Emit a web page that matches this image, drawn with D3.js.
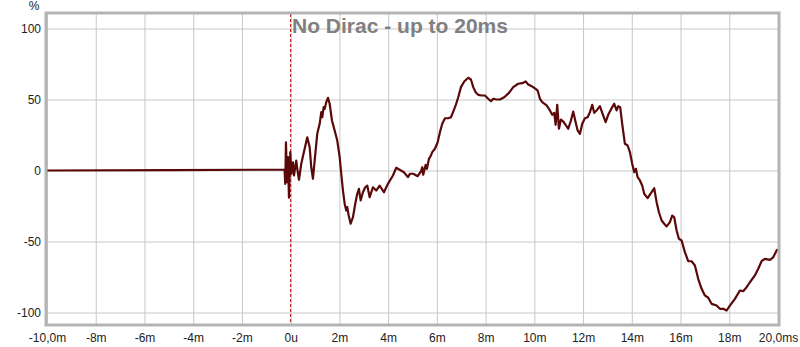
<!DOCTYPE html>
<html lang="en">
<head>
<meta charset="UTF-8">
<title>No Dirac - up to 20ms</title>
<script src="https://d3js.org/d3.v7.min.js"></script>
<style>
  body { margin: 0; background: #fff; }
  svg { display: block; font-family: "Liberation Sans", Arial, sans-serif; }
  .tick text { fill: #222; font-size: 12px; }
</style>
</head>
<body>
<div id="chart"></div>
<script>
// impulse response, time in ms, level in %
const timeMs = [-10, -5, -0.25, -0.222, -0.193, -0.152, -0.111, -0.070, -0.016, 0.025, 0.094, 0.135,
  0.230, 0.271, 0.341, 0.435, 0.574, 0.681, 0.780, 0.845, 0.915, 0.985, 1.091, 1.190, 1.256, 1.297,
  1.354, 1.395, 1.461, 1.531, 1.600, 1.695, 1.805, 1.912, 2.011, 2.076, 2.146, 2.216, 2.281, 2.323,
  2.380, 2.462, 2.556, 2.651, 2.733, 2.802, 2.872, 2.966, 3.061, 3.143, 3.242, 3.377, 3.512, 3.652,
  3.828, 3.992, 4.198, 4.333, 4.473, 4.649, 4.813, 4.895, 5.031, 5.211, 5.347, 5.400, 5.441, 5.540,
  5.593, 5.675, 5.757, 5.810, 5.921, 6.032, 6.126, 6.221, 6.332, 6.467, 6.578, 6.672, 6.771, 6.877,
  6.988, 7.123, 7.287, 7.398, 7.493, 7.591, 7.698, 7.837, 7.973, 8.084, 8.219, 8.313, 8.453, 8.588,
  8.765, 8.958, 9.134, 9.339, 9.504, 9.643, 9.750, 9.889, 10.053, 10.135, 10.230, 10.324, 10.505,
  10.640, 10.734, 10.816, 10.874, 10.940, 11.009, 11.091, 11.186, 11.284, 11.391, 11.502, 11.596,
  11.695, 11.777, 11.871, 11.966, 12.076, 12.187, 12.282, 12.376, 12.458, 12.556, 12.692, 12.802,
  12.926, 13.032, 13.172, 13.279, 13.376, 13.442, 13.524, 13.606, 13.717, 13.828, 13.923, 14.017,
  14.099, 14.169, 14.239, 14.333, 14.427, 14.509, 14.649, 14.813, 14.920, 15.018, 15.113, 15.224,
  15.330, 15.429, 15.564, 15.658, 15.740, 15.839, 15.933, 16.044, 16.179, 16.315, 16.454, 16.590,
  16.725, 16.865, 17.000, 17.136, 17.275, 17.480, 17.616, 17.751, 17.891, 18.026, 18.232, 18.437,
  18.572, 18.711, 18.847, 19.052, 19.188, 19.327, 19.462, 19.668, 19.803, 19.943, 20];
const level = [0, 0.3, 0.6, -9.4, 19.9, -8.2, 9.4, -19.2, 12.9, -2.3, 5.8, -3.5,
  7.0, 1.2, -6.5, 4.7, 15.3, 23.4, 16.4, 2.3, -5.8, 7.0, 25.8, 32.9, 41.1, 37.5,
  44.6, 43.4, 48.1, 51.2, 47.0, 35.2, 28.2, 21.1, 9.4, -2.3, -14.1, -23.4, -28.2, -25.8,
  -31.7, -37.5, -32.9, -23.4, -16.4, -12.9, -21.1, -15.3, -11.8, -10.6, -18.8, -11.8, -14.1, -10.6,
  -15.3, -9.4, -3.5, 1.9, 0.5, -1.2, -4.7, -2.3, -2.3, -4.0, -0.7, 2.3, -3.0, 4.0,
  1.2, 8.2, 10.6, 12.9, 15.3, 19.9, 27.0, 32.9, 36.8, 36.8, 37.5, 41.5, 45.8, 51.6,
  58.7, 62.7, 65.3, 64.1, 58.7, 55.1, 53.3, 52.8, 52.8, 50.9, 48.8, 50.5, 50.0, 50.0,
  51.6, 54.7, 58.7, 61.1, 61.5, 62.7, 60.6, 59.4, 57.5, 56.3, 50.5, 48.1, 45.8,
  42.3, 39.2, 40.6, 32.2, 46.3, 29.4, 35.9, 34.5, 32.2, 29.4, 35.2, 41.5,
  34.0, 28.2, 25.8, 32.9, 36.8, 37.5, 41.1, 46.3, 40.6, 42.3, 45.3, 39.9,
  34.0, 39.2, 43.9, 47.0, 42.3, 45.3, 44.6, 32.9, 18.8, 17.6, 12.9, 4.7,
  -1.2, 1.2, -4.7, -7.0, -10.6, -16.4, -19.5, -15.3, -12.5, -22.3, -29.4, -35.2,
  -37.5, -39.4, -36.4, -31.7, -32.9, -42.3, -48.1, -49.3, -57.5, -63.9, -63.9, -66.9,
  -76.3, -83.3, -88.0, -89.6, -93.9, -95.1, -97.4, -97.4, -98.6, -95.1, -90.4, -84.5,
  -85.0, -82.2, -78.7, -73.9, -69.2, -63.9, -62.2, -62.9, -61.1, -56.3, -55.5];

const xTicks = [-10, -8, -6, -4, -2, 0, 2, 4, 6, 8, 10, 12, 14, 16, 18, 20];
const xTickLabels = ["-10,0m", "-8m", "-6m", "-4m", "-2m", "0u", "2m", "4m", "6m", "8m",
  "10m", "12m", "14m", "16m", "18m", "20,0ms"];
const yTicks = [-100, -50, 0, 50, 100];
const yTickLabels = ["-100", "-50", "0", "50", "100"];

const width = 800, height = 347;
const frame = {left: 47, right: 778, top: 14, bottom: 324};

const svg = d3.select("#chart").append("svg")
  .attr("width", width)
  .attr("height", height);

const x = d3.scaleLinear().domain([-10, 20]).range([frame.left, frame.right]);
const y = d3.scaleLinear().domain([-100, 100]).range([312.5, 28.5]);

// grid
svg.append("g")
  .attr("transform", `translate(0,${frame.bottom})`)
  .call(d3.axisBottom(x).tickValues(xTicks)
    .tickSize(-(frame.bottom - frame.top)).tickPadding(9)
    .tickFormat((d, i) => xTickLabels[i]))
  .call(g => g.select(".domain").remove())
  .call(g => g.selectAll(".tick line").attr("stroke", "#c8c8c8"));

svg.append("g")
  .attr("transform", `translate(${frame.left},0)`)
  .call(d3.axisLeft(y).tickValues(yTicks)
    .tickSize(-(frame.right - frame.left)).tickPadding(6)
    .tickFormat((d, i) => yTickLabels[i]))
  .call(g => g.select(".domain").remove())
  .call(g => g.selectAll(".tick line").attr("stroke", "#c8c8c8"));

svg.append("text")
  .attr("x", 34).attr("y", 10)
  .attr("text-anchor", "middle")
  .attr("font-size", 12).attr("fill", "#222")
  .text("%");

// zero marker
svg.append("line")
  .attr("x1", x(0)).attr("x2", x(0))
  .attr("y1", frame.top).attr("y2", frame.bottom)
  .attr("stroke", "#c00000").attr("stroke-width", 1)
  .attr("stroke-dasharray", "3,2");

// title
svg.append("text")
  .attr("x", 400).attr("y", 33)
  .attr("text-anchor", "middle")
  .attr("font-size", 21).attr("font-weight", "bold")
  .attr("fill", "#808080")
  .text("No Dirac - up to 20ms");

// curve
const pts = timeMs.map((t, i) => [t, level[i]]);
svg.append("path")
  .datum(pts)
  .attr("fill", "none")
  .attr("stroke", "#5a0808")
  .attr("stroke-width", 2.2)
  .attr("stroke-linejoin", "round")
  .attr("d", d3.line().x(d => x(d[0])).y(d => y(d[1])));

// frame
svg.append("rect")
  .attr("x", frame.left - 1).attr("y", frame.top - 1)
  .attr("width", frame.right - frame.left + 2)
  .attr("height", frame.bottom - frame.top + 2)
  .attr("fill", "none")
  .attr("stroke", "#b4b4b4")
  .attr("stroke-width", 3);
</script>
</body>
</html>
